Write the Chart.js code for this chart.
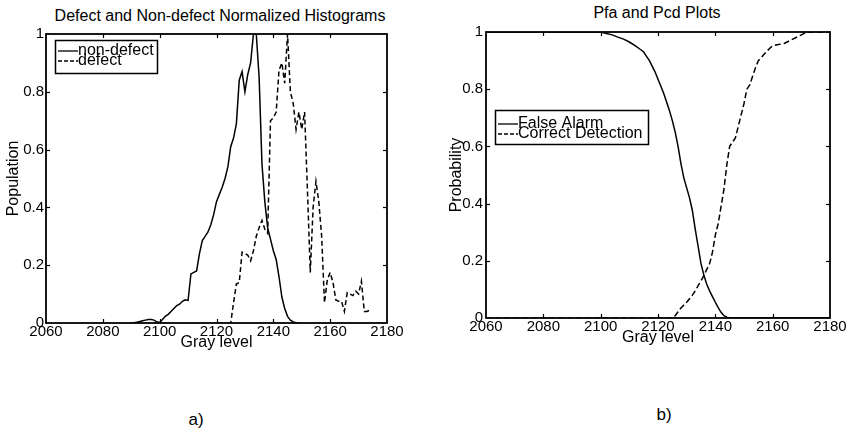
<!DOCTYPE html>
<html><head><meta charset="utf-8">
<script src="https://cdn.jsdelivr.net/npm/chart.js@4"></script>
<style>
html,body{margin:0;padding:0;background:#fff;}
body{width:852px;height:433px;position:relative;overflow:hidden;font-family:"Liberation Sans",Arial,sans-serif;color:#000;}
canvas{position:absolute;top:0;}
.t{position:absolute;font-size:16px;line-height:16px;white-space:nowrap;transform:translateX(-50%);color:#000;}
</style></head><body>
<div class="t" style="left:220px;top:8px">Defect and Non-defect Normalized Histograms</div>
<div class="t" style="left:657px;top:5px">Pfa and Pcd Plots</div>
<div class="t" style="left:196px;top:412px;font-size:17px">a)</div>
<div class="t" style="left:664px;top:407px;font-size:17px">b)</div>
<canvas id="c1" width="426" height="433" style="left:0px"></canvas>
<canvas id="c2" width="426" height="433" style="left:426px"></canvas>
<script>
// ---------- data ----------
const xTicks = [2060, 2080, 2100, 2120, 2140, 2160, 2180];
const yTicks = [0, 0.2, 0.4, 0.6, 0.8, 1];

const nonDefectGray = [2090,2091,2092,2093,2094,2095,2096,2097,2098,2099,
  2100,2101,2102,2103,2104,2105,2106,2107,2108,2109,
  2110,2111,2112,2113,2114,2115,2116,2117,2118,2119,
  2120,2121,2122,2123,2124,2125,2126,2127,2128,2129,
  2130,2131,2132,2133,2134,2135,2136,2137,2138,2139,
  2140,2141,2142,2143,2144,2145,2146,2147,2148,2149];
const nonDefect = [0,0.001,0.003,0.005,0.008,0.01,0.012,0.012,0.01,0.004,
  0.002,0.012,0.023,0.03,0.04,0.05,0.06,0.065,0.075,0.08,
  0.078,0.17,0.175,0.18,0.24,0.285,0.3,0.315,0.34,0.375,
  0.42,0.445,0.47,0.5,0.54,0.61,0.64,0.69,0.84,0.87,
  0.8,0.86,0.9,1,1,0.85,0.55,0.42,0.33,0.29,
  0.25,0.22,0.16,0.09,0.05,0.023,0.01,0.004,0.001,0];

const defectGray = [2124,2125,2126,2127,2128,2129,2130,2131,2132,2133,
  2134,2135,2136,2137,2138,2139,2140,2141,2142,2143,
  2144,2145,2146,2147,2148,2149,2150,2151,2152,2153,
  2154,2155,2156,2157,2158,2159,2160,2161,2162,2163,
  2164,2165,2166,2167,2168,2169,2170,2171,2172,2173,2174];
const defect = [0,0,0.07,0.135,0.14,0.245,0.24,0.235,0.215,0.25,
  0.3,0.33,0.355,0.325,0.31,0.7,0.71,0.73,0.875,0.9,
  0.83,1,0.8,0.76,0.67,0.73,0.67,0.73,0.46,0.175,
  0.4,0.49,0.42,0.3,0.07,0.15,0.175,0.14,0.08,0.075,
  0.075,0.04,0.105,0.1,0.095,0.11,0.1,0.145,0.04,0.04,0.045];

const pfaGray = [2060,2100,2102,2104,2106,2108,2110,2112,2114,2115,2116,2117,2118,2119,
  2120,2121,2122,2123,2124,2125,2126,2127,2128,2129,2130,2131,2132,2133,2134,2135,
  2136,2137,2138,2139,2140,2141,2142,2143,2144,2145,2180];
const pfa = [1,1,0.995,0.99,0.982,0.975,0.965,0.952,0.938,0.93,0.915,0.9,0.88,0.86,
  0.835,0.81,0.785,0.755,0.725,0.69,0.65,0.6,0.54,0.49,0.455,0.42,0.375,0.31,0.25,0.19,
  0.15,0.118,0.095,0.075,0.055,0.036,0.02,0.008,0.003,0,0];

const pcdGray = [2060,2125,2126,2127,2128,2129,2130,2131,2132,2133,2134,2135,2136,2137,2138,2139,
  2140,2141,2142,2143,2144,2145,2146,2147,2148,2149,2150,2151,2152,2153,2154,2155,
  2156,2157,2158,2159,2160,2162,2164,2166,2168,2170,2172,2180];
const pcd = [0,0,0.008,0.022,0.035,0.045,0.055,0.067,0.08,0.095,0.113,0.13,0.148,0.17,0.19,0.23,
  0.29,0.33,0.39,0.45,0.535,0.6,0.615,0.63,0.67,0.71,0.75,0.8,0.815,0.845,0.875,0.9,
  0.91,0.922,0.933,0.943,0.952,0.956,0.96,0.97,0.98,0.99,1,1];

// ---------- helpers ----------
const FONT = '"Liberation Sans", Arial, sans-serif';
Chart.defaults.font.family = FONT;
Chart.defaults.color = '#000';

const pts = (xs, ys) => xs.map((x, i) => ({x: x, y: ys[i]}));

const frameLegend = {
  id: 'frameLegend',
  afterDraw(chart, args, opts) {
    const {ctx, chartArea: a, scales: {x, y}} = chart;
    ctx.save();
    ctx.strokeStyle = '#000';
    ctx.setLineDash([]);
    ctx.lineWidth = 1.8;
    ctx.strokeRect(a.left, a.top, a.right - a.left, a.bottom - a.top);
    ctx.lineWidth = 1.2;
    const L = 4;
    const seg = (x0, y0, x1, y1) => { ctx.beginPath(); ctx.moveTo(x0, y0); ctx.lineTo(x1, y1); ctx.stroke(); };
    x.ticks.forEach(t => {
      if (t.value <= x.min || t.value >= x.max) return;
      const px = Math.round(x.getPixelForValue(t.value)) + 0.5;
      seg(px, a.bottom, px, a.bottom - L);
      seg(px, a.top, px, a.top + L);
    });
    y.ticks.forEach(t => {
      if (t.value <= y.min || t.value >= y.max) return;
      const py = Math.round(y.getPixelForValue(t.value)) + 0.5;
      seg(a.left, py, a.left + L, py);
      seg(a.right, py, a.right - L, py);
    });
    // legend box
    const lg = opts.legend;
    if (lg) {
      ctx.fillStyle = '#fff';
      ctx.fillRect(lg.box[0], lg.box[1], lg.box[2], lg.box[3]);
      ctx.lineWidth = 1.5;
      ctx.strokeRect(lg.box[0], lg.box[1], lg.box[2], lg.box[3]);
      ctx.font = '16px ' + FONT;
      ctx.fillStyle = '#000';
      ctx.textBaseline = 'alphabetic';
      ctx.textAlign = 'left';
      chart.data.datasets.forEach((ds, i) => {
        ctx.lineWidth = 1.3;
        ctx.setLineDash(ds.borderDash && ds.borderDash.length ? [4, 2] : []);
        seg(lg.x0, lg.lineY[i], lg.x1, lg.lineY[i]);
        ctx.setLineDash([]);
        ctx.fillText(ds.label, lg.textX, lg.baseY[i]);
      });
    }
    ctx.restore();
  }
};

function makeChart(id, datasets, cfg) {
  return new Chart(document.getElementById(id), {
    type: 'scatter',
    data: {datasets: datasets},
    plugins: [frameLegend],
    options: {
      responsive: false,
      animation: false,
      devicePixelRatio: 1,
      layout: {padding: {top: cfg.top, right: cfg.right, left: 0, bottom: 0}},
      plugins: {legend: {display: false}, tooltip: {enabled: false}, title: {display: false},
        frameLegend: {legend: cfg.legend}},
      elements: {point: {radius: 0}, line: {tension: 0}},
      scales: {
        x: {
          type: 'linear', min: 2060, max: 2180,
          afterBuildTicks: s => { s.ticks = xTicks.map(v => ({value: v})); },
          afterFit: s => { s.height = cfg.xh; },
          grid: {display: false, drawTicks: false},
          border: {display: false},
          ticks: {padding: 0, font: {size: 15}, color: '#000', maxRotation: 0, autoSkip: false,
            callback: v => String(v)},
          title: {display: true, text: 'Gray level', font: {size: 16}, color: '#000',
            padding: {top: 0, bottom: cfg.xtPad}}
        },
        y: {
          type: 'linear', min: 0, max: 1,
          afterBuildTicks: s => { s.ticks = yTicks.map(v => ({value: v})); },
          afterFit: s => { s.width = cfg.yw; },
          grid: {display: false, drawTicks: false},
          border: {display: false},
          ticks: {padding: cfg.ytickPad, font: {size: 15}, color: '#000', autoSkip: false,
            callback: v => String(v)},
          title: {display: true, text: cfg.ytitle, font: {size: 16}, color: '#000',
            padding: {top: cfg.ytPad, bottom: 0}}
        }
      }
    }
  });
}

makeChart('c1', [
  {label: 'non-defect', data: pts(nonDefectGray, nonDefect), showLine: true,
   borderColor: '#000', borderWidth: 1.5, pointRadius: 0},
  {label: 'defect', data: pts(defectGray, defect), showLine: true,
   borderColor: '#000', borderWidth: 1.5, borderDash: [5, 3], pointRadius: 0}
], {top: 34, right: 39, xh: 110, yw: 46, xtPad: 81, ytPad: 4, ytickPad: 2,
    ytitle: 'Population',
    legend: {box: [55.5, 40.5, 102, 33], x0: 58, x1: 78, textX: 78, lineY: [51, 61], baseY: [55, 65]}});

makeChart('c2', [
  {label: 'False Alarm', data: pts(pfaGray, pfa), showLine: true,
   borderColor: '#000', borderWidth: 1.5, pointRadius: 0},
  {label: 'Correct Detection', data: pts(pcdGray, pcd), showLine: true,
   borderColor: '#000', borderWidth: 1.5, borderDash: [6, 3], pointRadius: 0}
], {top: 32, right: 22, xh: 115, yw: 60, xtPad: 86, ytPad: 21, ytickPad: 3,
    ytitle: 'Probability',
    legend: {box: [69.5, 110.5, 153, 34], x0: 72, x1: 92, textX: 92, lineY: [124, 134], baseY: [128, 138]}});
</script>
</body></html>
